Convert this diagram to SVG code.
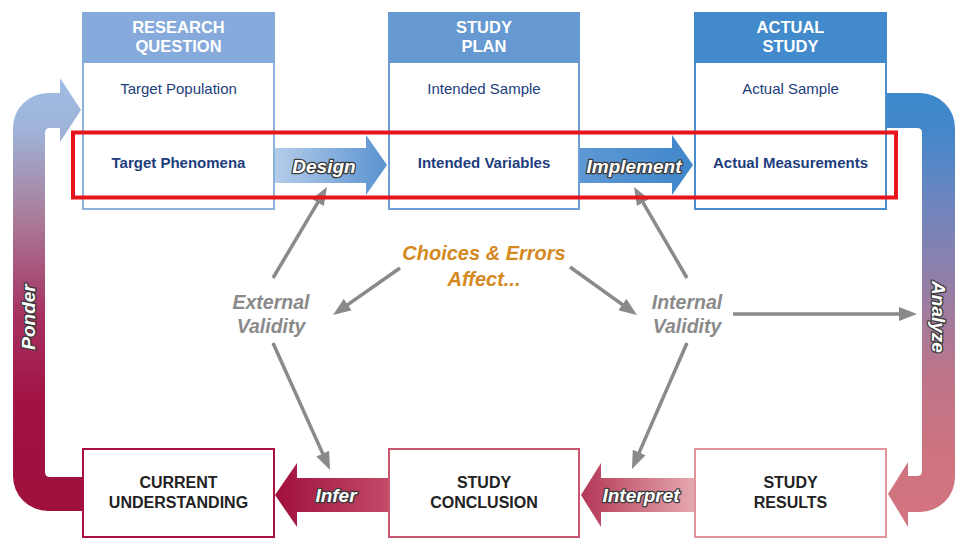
<svg xmlns="http://www.w3.org/2000/svg" width="970" height="556" viewBox="0 0 970 556">
<style>
.hdr{font-family:"Liberation Sans",Arial,sans-serif;font-size:16.5px;font-weight:bold;fill:#fff;text-anchor:middle}
.item{font-family:"Liberation Sans",Arial,sans-serif;font-size:15px;fill:#1d3d7c;text-anchor:middle}
.itemb{font-family:"Liberation Sans",Arial,sans-serif;font-size:15px;font-weight:bold;fill:#1d3d7c;text-anchor:middle}
.bot{font-family:"Liberation Sans",Arial,sans-serif;font-size:16px;font-weight:bold;fill:#222;text-anchor:middle}
.lbl{font-family:"Liberation Sans",Arial,sans-serif;font-size:19px;font-weight:bold;font-style:italic;fill:#fff;stroke:#3a3a3a;stroke-width:2.6px;paint-order:stroke;stroke-linejoin:round;text-anchor:middle}
.val{font-family:"Liberation Sans",Arial,sans-serif;font-size:19.5px;font-weight:bold;font-style:italic;fill:#8a8a8a;text-anchor:middle}
.cho{font-family:"Liberation Sans",Arial,sans-serif;font-size:20px;font-weight:bold;font-style:italic;fill:#d4891f;text-anchor:middle}
.g{stroke:#8a8a8a;stroke-width:3.5;fill:none;marker-end:url(#ah)}
</style>
<defs>
<marker id="ah" markerUnits="userSpaceOnUse" markerWidth="18" markerHeight="14" refX="13" refY="7" orient="auto">
<path d="M0,0 L18,7 L0,14 z" fill="#8a8a8a"/>
</marker>
<linearGradient id="gLeft" gradientUnits="userSpaceOnUse" x1="0" y1="78" x2="0" y2="511">
<stop offset="0" stop-color="#9dbde4"/>
<stop offset="0.12" stop-color="#9fb3d8"/>
<stop offset="0.33" stop-color="#a97a97"/>
<stop offset="0.55" stop-color="#a63060"/>
<stop offset="0.75" stop-color="#a21244"/>
<stop offset="1" stop-color="#a0103c"/>
</linearGradient>
<linearGradient id="gRight" gradientUnits="userSpaceOnUse" x1="0" y1="93" x2="0" y2="527">
<stop offset="0" stop-color="#3d89cd"/>
<stop offset="0.08" stop-color="#4287cb"/>
<stop offset="0.25" stop-color="#6d86bf"/>
<stop offset="0.45" stop-color="#957ea6"/>
<stop offset="0.65" stop-color="#bd7589"/>
<stop offset="0.85" stop-color="#d0737f"/>
<stop offset="1" stop-color="#d37480"/>
</linearGradient>
<linearGradient id="gDesign" x1="0" y1="0" x2="1" y2="0">
<stop offset="0" stop-color="#b5cdea"/>
<stop offset="1" stop-color="#5a93d0"/>
</linearGradient>
<linearGradient id="gImpl" x1="0" y1="0" x2="1" y2="0">
<stop offset="0" stop-color="#5e97d3"/>
<stop offset="1" stop-color="#3f87cb"/>
</linearGradient>
<linearGradient id="gInfer" x1="0" y1="0" x2="1" y2="0">
<stop offset="0" stop-color="#a0103c"/>
<stop offset="1" stop-color="#c24a68"/>
</linearGradient>
<linearGradient id="gInterp" x1="0" y1="0" x2="1" y2="0">
<stop offset="0" stop-color="#b43656"/>
<stop offset="1" stop-color="#e6a9b0"/>
</linearGradient>
</defs>

<g id="connectors">
<path id="ponder" d="M82,477 L50,477 Q45,477 45,472 L45,133 Q45,128 50,128 L60,128 L60,142 L81,110 L60,78 L60,93 L48,93 A35,35 0 0 0 13,128 L13,476 A35,35 0 0 0 48,511 L82,511 Z" fill="url(#gLeft)"/>
<path id="analyze" d="M887,93 L920,93 A35,35 0 0 1 955,128 L955,477 A35,35 0 0 1 920,512 L908,512 L908,527 L888,494 L908,462 L908,476 L917,476 Q922,476 922,471 L922,133 Q922,128 917,128 L887,128 Z" fill="url(#gRight)"/>
<polygon id="design" points="274,148 366,148 366,135 387,165 366,195 366,183 274,183" fill="url(#gDesign)"/>
<polygon id="implement" points="580,148 672,148 672,135 693,165 672,195 672,183 580,183" fill="url(#gImpl)"/>
<polygon id="infer" points="388,478 297,478 297,463 275,495 297,527 297,512 388,512" fill="url(#gInfer)"/>
<polygon id="interpret" points="694,478 601,478 601,463 581,495 601,527 601,512 694,512" fill="url(#gInterp)"/>
<text class="lbl" transform="translate(34.5,317) rotate(-90)">Ponder</text>
<text class="lbl" transform="translate(931.5,317) rotate(90)">Analyze</text>
<text class="lbl" x="324" y="173">Design</text>
<text class="lbl" x="634" y="173">Implement</text>
<text class="lbl" x="336" y="502">Infer</text>
<text class="lbl" x="641" y="502">Interpret</text>
<line class="g" x1="273" y1="278" x2="324.4" y2="191.3"/>
<line class="g" x1="273" y1="343" x2="328" y2="465.4"/>
<line class="g" x1="400" y1="268" x2="337.1" y2="312.1"/>
<line class="g" x1="570" y1="267" x2="632.9" y2="312.1"/>
<line class="g" x1="687" y1="278" x2="636.5" y2="191.3"/>
<line class="g" x1="687" y1="343" x2="634" y2="464.4"/>
<line class="g" x1="733" y1="314" x2="912" y2="314"/>
</g>

<g id="research-question">
<rect x="83" y="13" width="191" height="196" fill="#fff" stroke="#8db1dd" stroke-width="2"/>
<rect x="82" y="12" width="193" height="51" fill="#85aadb"/>
<text class="hdr" x="178.5" y="33">RESEARCH</text>
<text class="hdr" x="178.5" y="52">QUESTION</text>
<text class="item" x="178.5" y="94">Target Population</text>
<text class="itemb" x="178.5" y="168">Target Phenomena</text>
</g>
<g id="study-plan">
<rect x="389" y="13" width="190" height="196" fill="#fff" stroke="#6c9dd4" stroke-width="2"/>
<rect x="388" y="12" width="192" height="51" fill="#6699d2"/>
<text class="hdr" x="484" y="33">STUDY</text>
<text class="hdr" x="484" y="52">PLAN</text>
<text class="item" x="484" y="94">Intended Sample</text>
<text class="itemb" x="484" y="168">Intended Variables</text>
</g>
<g id="actual-study">
<rect x="695" y="13" width="191" height="196" fill="#fff" stroke="#4a8fcd" stroke-width="2"/>
<rect x="694" y="12" width="193" height="51" fill="#428acb"/>
<text class="hdr" x="790.5" y="33">ACTUAL</text>
<text class="hdr" x="790.5" y="52">STUDY</text>
<text class="item" x="790.5" y="94">Actual Sample</text>
<text class="itemb" x="790.5" y="168">Actual Measurements</text>
</g>
<g id="current-understanding">
<rect x="83" y="449" width="191" height="88" fill="#fff" stroke="#a8103f" stroke-width="2"/>
<text class="bot" x="178.5" y="488">CURRENT</text>
<text class="bot" x="178.5" y="508">UNDERSTANDING</text>
</g>
<g id="study-conclusion">
<rect x="389" y="449" width="190" height="88" fill="#fff" stroke="#c8566e" stroke-width="2"/>
<text class="bot" x="484" y="488">STUDY</text>
<text class="bot" x="484" y="508">CONCLUSION</text>
</g>
<g id="study-results">
<rect x="695" y="449" width="191" height="88" fill="#fff" stroke="#e0949a" stroke-width="2"/>
<text class="bot" x="790.5" y="488">STUDY</text>
<text class="bot" x="790.5" y="508">RESULTS</text>
</g>
<g id="choices">
<text class="cho" x="484" y="260">Choices &amp; Errors</text>
<text class="cho" x="484" y="286">Affect...</text>
</g>
<g id="external-validity">
<text class="val" x="271" y="309">External</text>
<text class="val" x="271" y="333">Validity</text>
</g>
<g id="internal-validity">
<text class="val" x="687" y="309">Internal</text>
<text class="val" x="687" y="333">Validity</text>
</g>
<rect id="highlight" x="73" y="132.5" width="823" height="65" fill="none" stroke="#e8141c" stroke-width="4"/>
</svg>
